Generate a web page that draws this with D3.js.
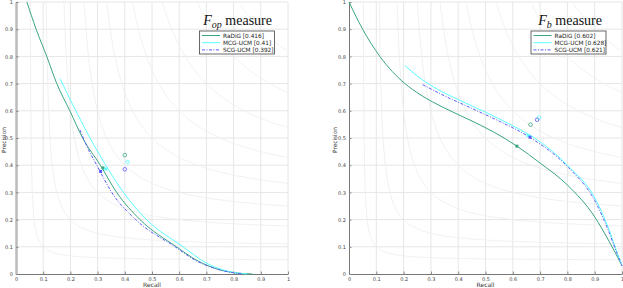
<!DOCTYPE html>
<html>
<head>
<meta charset="utf-8">
<script src="https://cdn.jsdelivr.net/npm/d3@7"></script>
<style>
  body { margin: 0; background: #fff; }
  svg { display: block; }
</style>
</head>
<body>
<svg id="chart"></svg>
<script>
const ticks = [0, 0.1, 0.2, 0.3, 0.4, 0.5, 0.6, 0.7, 0.8, 0.9, 1];
const isoF = [0.1, 0.2, 0.3, 0.4, 0.5, 0.6, 0.7, 0.8, 0.9];
const methods = ['RaDiG', 'MCG-UCM', 'SCG-UCM'];

// F_op panel, [recall, precision]
const opRadig = [[0.04, 1.0], [0.074, 0.9], [0.113, 0.8], [0.15, 0.7], [0.198, 0.6], [0.245, 0.5], [0.31, 0.4], [0.37, 0.3], [0.456, 0.2], [0.59, 0.1], [0.665, 0.05], [0.75, 0.015], [0.82, 0.003], [0.87, 0.0]];
const opMcg = [[0.162, 0.718], [0.19, 0.66], [0.22, 0.6], [0.272, 0.5], [0.33, 0.4], [0.395, 0.3], [0.48, 0.2], [0.614, 0.1], [0.7, 0.04], [0.78, 0.01], [0.85, 0.0]];
const opScg = [[0.235, 0.53], [0.265, 0.46], [0.297, 0.4], [0.352, 0.3], [0.44, 0.2], [0.585, 0.1], [0.66, 0.05], [0.75, 0.015], [0.83, 0.0]];
const opBest = [[0.40, 0.437], [0.41, 0.411], [0.40, 0.385]];
const opMarks = [[0.32, 0.39], [0.33, 0.386], [0.311, 0.377]];
const opScores = ['0.416', '0.41', '0.392'];

// F_b panel
const bRadig = [[0.0, 1.0], [0.05, 0.9], [0.113, 0.8], [0.205, 0.7], [0.26, 0.66], [0.35, 0.61], [0.443, 0.566], [0.53, 0.522], [0.615, 0.47], [0.7, 0.408], [0.8, 0.327], [0.9, 0.21], [0.95, 0.125], [0.99, 0.05], [1.0, 0.03]];
const bMcg = [[0.205, 0.766], [0.25, 0.728], [0.309, 0.688], [0.407, 0.638], [0.5, 0.595], [0.6, 0.545], [0.69, 0.493], [0.8, 0.40], [0.9, 0.28], [0.95, 0.17], [0.98, 0.085], [1.0, 0.03]];
const bScg = [[0.27, 0.696], [0.35, 0.655], [0.443, 0.612], [0.55, 0.562], [0.663, 0.502], [0.8, 0.395], [0.9, 0.27], [0.95, 0.16], [0.98, 0.08], [1.0, 0.03]];
const bBest = [[0.665, 0.549], [0.696, 0.575], [0.689, 0.567]];
const bMarks = [[0.615, 0.47], [0.656, 0.509], [0.663, 0.503]];
const bScores = ['0.602', '0.628', '0.621'];

const colors = ['#3aa582', '#5cffff', '#5a5aff'];
const dashes = [null, null, '3,1.5,1,1.5'];

const W = 623, H = 288;
const svg = d3.select('#chart').attr('width', W).attr('height', H)
  .style('font-family', 'DejaVu Sans, sans-serif');

function panel(cfg) {
  const x = d3.scaleLinear().domain([0, 1]).range([cfg.x0, cfg.x1]);
  const y = d3.scaleLinear().domain([0, 1]).range([274, 2]);
  const g = svg.append('g');

  // grid
  g.append('g').selectAll('line.v').data(ticks.slice(1)).enter().append('line')
    .attr('x1', d => x(d)).attr('x2', d => x(d)).attr('y1', y(0)).attr('y2', y(1))
    .attr('stroke', '#e6e6e6').attr('stroke-width', 1);
  g.append('g').selectAll('line.h').data(ticks.slice(1)).enter().append('line')
    .attr('x1', x(0)).attr('x2', x(1)).attr('y1', d => y(d)).attr('y2', d => y(d))
    .attr('stroke', '#e6e6e6').attr('stroke-width', 1);

  // iso-F curves
  const iso = d3.line().x(d => x(d[0])).y(d => y(d[1]));
  isoF.forEach(f => {
    const r0 = f / (2 - f);
    const pts = d3.range(0, 401).map(i => {
      const r = r0 + (1 - r0) * Math.pow(i / 400, 2);
      return [r, f * r / (2 * r - f)];
    });
    g.append('path').attr('d', iso(pts)).attr('fill', 'none')
      .attr('stroke', '#ededed').attr('stroke-width', 0.9);
  });

  // axes
  const ax = g.append('g').attr('transform', `translate(0,${y(0)})`)
    .call(d3.axisBottom(x).tickValues(ticks).tickFormat(d3.format('~g')).tickSizeInner(-2.5).tickSizeOuter(0).tickPadding(3));
  const ay = g.append('g').attr('transform', `translate(${x(0)},0)`)
    .call(d3.axisLeft(y).tickValues(ticks).tickFormat(d3.format('~g')).tickSizeInner(-2.5).tickSizeOuter(0).tickPadding(3));
  [ax, ay].forEach(a => {
    a.selectAll('text').attr('font-size', 5).attr('fill', '#444').attr('font-family', 'DejaVu Sans, sans-serif');
    a.selectAll('line').attr('stroke', '#888');
    a.select('.domain').attr('stroke', '#777').attr('stroke-width', 1);
  });
  ay.select('.domain').attr('stroke', cfg.yAxisColor).attr('stroke-width', cfg.yAxisWidth);

  g.append('text').attr('x', (x(0) + x(1)) / 2).attr('y', 287)
    .attr('text-anchor', 'middle').attr('font-size', 6).attr('fill', '#333').text('Recall');
  g.append('text').attr('transform', `translate(${Math.max(x(0) - 12.5, 5.5)},140) rotate(-90)`)
    .attr('text-anchor', 'middle').attr('font-size', 5.8).attr('fill', '#333').text('Precision');

  // curves
  const line = d3.line().x(d => x(d[0])).y(d => y(d[1])).curve(d3.curveMonotoneX);
  cfg.series.forEach((s, i) => {
    g.append('path').attr('d', line(s)).attr('fill', 'none')
      .attr('stroke', colors[i]).attr('stroke-width', 1)
      .attr('stroke-dasharray', dashes[i]);
  });

  // markers
  cfg.marks.forEach((p, i) => {
    g.append('rect').attr('x', x(p[0]) - 1.5).attr('y', y(p[1]) - 1.5)
      .attr('width', 3).attr('height', 3).attr('fill', colors[i]);
  });
  cfg.best.forEach((p, i) => {
    g.append('circle').attr('cx', x(p[0])).attr('cy', y(p[1])).attr('r', 1.8)
      .attr('fill', 'none').attr('stroke', colors[i]).attr('stroke-width', 0.8);
  });

  // title
  const t = g.append('text').attr('x', cfg.titleX).attr('y', 25).attr('text-anchor', 'end')
    .attr('font-family', 'Liberation Serif, serif').attr('font-size', 14).attr('fill', '#111');
  t.append('tspan').attr('font-style', 'italic').text('F');
  t.append('tspan').attr('font-style', 'italic').attr('font-size', 10).attr('dy', 3).text(cfg.sub);
  t.append('tspan').attr('dy', -3).text('\u00a0measure');

  // legend
  const lg = g.append('g').attr('transform', `translate(${cfg.legX},31)`);
  lg.append('rect').attr('width', 75).attr('height', 23).attr('fill', '#fff')
    .attr('stroke', '#444').attr('stroke-width', 0.8);
  methods.forEach((m, i) => {
    const yy = 4.5 + i * 7.2;
    lg.append('line').attr('x1', 2.5).attr('x2', 20.5).attr('y1', yy).attr('y2', yy)
      .attr('stroke', colors[i]).attr('stroke-width', 1).attr('stroke-dasharray', dashes[i]);
    lg.append('text').attr('x', 23.5).attr('y', yy + 2).attr('font-size', 5.8).attr('fill', '#222')
      .text(`${m} [${cfg.scores[i]}]`);
  });
}

panel({ x0: 16, x1: 288, sub: 'op', titleX: 272, legX: 199.5, scores: opScores,
  series: [opRadig, opMcg, opScg], marks: opMarks, best: opBest,
  yAxisColor: '#bbb', yAxisWidth: 2.5 });
panel({ x0: 349, x1: 622, sub: 'b', titleX: 602, legX: 531, scores: bScores,
  series: [bRadig, bMcg, bScg], marks: bMarks, best: bBest,
  yAxisColor: '#777', yAxisWidth: 1 });
</script>
</body>
</html>
